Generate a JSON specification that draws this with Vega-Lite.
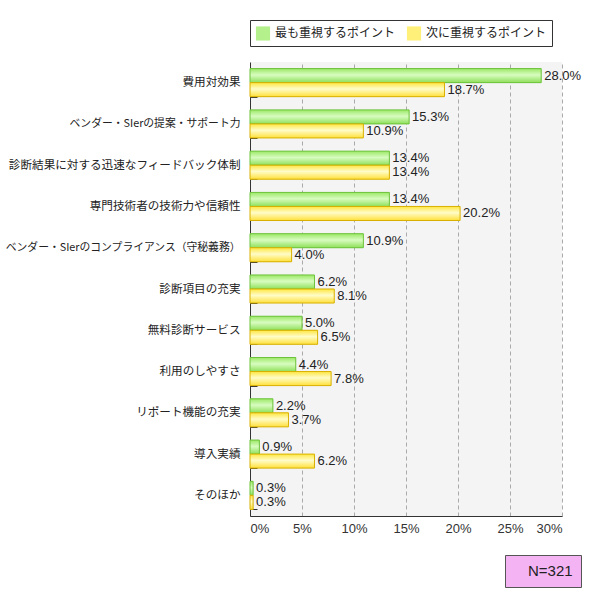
{
  "$schema": "https://vega.github.io/schema/vega-lite/v6.json",
  "width": 312,
  "height": 454,
  "padding": {"top": 19, "left": 4, "right": 29, "bottom": 5},
  "config": {
    "font": "Noto Sans CJK JP",
    "view": {"stroke": null, "fill": "#f4f4f4"}
  },
  "data": {
    "values": [
      {"item": "費用対効果", "series": "最も重視するポイント", "value": 0.280},
      {"item": "費用対効果", "series": "次に重視するポイント", "value": 0.187},
      {"item": "ベンダー・SIerの提案・サポート力", "series": "最も重視するポイント", "value": 0.153},
      {"item": "ベンダー・SIerの提案・サポート力", "series": "次に重視するポイント", "value": 0.109},
      {"item": "診断結果に対する迅速なフィードバック体制", "series": "最も重視するポイント", "value": 0.134},
      {"item": "診断結果に対する迅速なフィードバック体制", "series": "次に重視するポイント", "value": 0.134},
      {"item": "専門技術者の技術力や信頼性", "series": "最も重視するポイント", "value": 0.134},
      {"item": "専門技術者の技術力や信頼性", "series": "次に重視するポイント", "value": 0.202},
      {"item": "ベンダー・SIerのコンプライアンス（守秘義務）", "series": "最も重視するポイント", "value": 0.109},
      {"item": "ベンダー・SIerのコンプライアンス（守秘義務）", "series": "次に重視するポイント", "value": 0.040},
      {"item": "診断項目の充実", "series": "最も重視するポイント", "value": 0.062},
      {"item": "診断項目の充実", "series": "次に重視するポイント", "value": 0.081},
      {"item": "無料診断サービス", "series": "最も重視するポイント", "value": 0.050},
      {"item": "無料診断サービス", "series": "次に重視するポイント", "value": 0.065},
      {"item": "利用のしやすさ", "series": "最も重視するポイント", "value": 0.044},
      {"item": "利用のしやすさ", "series": "次に重視するポイント", "value": 0.078},
      {"item": "リポート機能の充実", "series": "最も重視するポイント", "value": 0.022},
      {"item": "リポート機能の充実", "series": "次に重視するポイント", "value": 0.037},
      {"item": "導入実績", "series": "最も重視するポイント", "value": 0.009},
      {"item": "導入実績", "series": "次に重視するポイント", "value": 0.062},
      {"item": "そのほか", "series": "最も重視するポイント", "value": 0.003},
      {"item": "そのほか", "series": "次に重視するポイント", "value": 0.003}
    ]
  },
  "encoding": {
    "y": {
      "field": "item", "type": "nominal", "sort": null,
      "scale": {"paddingInner": 0.32, "paddingOuter": 0.16},
      "axis": {
        "title": null,
        "labelFontSize": {"condition": {"test": "indexof(datum.label, '・') >= 0", "value": 10.8}, "value": 11.6},
        "labelColor": "#222",
        "tickBand": "extent", "tickSize": -7, "tickColor": "#333",
        "domainColor": "#333", "labelPadding": 17, "labelLimit": 300
      }
    },
    "yOffset": {"field": "series", "type": "nominal", "sort": ["最も重視するポイント", "次に重視するポイント"]},
    "x": {
      "field": "value", "type": "quantitative",
      "scale": {"domain": [0, 0.3]},
      "axis": {
        "title": null, "format": ".0%", "values": [0, 0.05, 0.1, 0.15, 0.2, 0.25, 0.3],
        "grid": true, "gridDash": [4, 3], "gridColor": "#aaaaaa",
        "ticks": false, "labelFont": "Liberation Sans", "labelFontSize": 13, "labelColor": "#333",
        "domainColor": "#333", "labelPadding": 6
      }
    }
  },
  "layer": [
    {
      "mark": {"type": "bar"},
      "encoding": {
        "color": {
          "field": "series", "type": "nominal",
          "sort": ["最も重視するポイント", "次に重視するポイント"],
          "scale": {"domain": ["最も重視するポイント", "次に重視するポイント"], "range": ["#b4f08c", "#fff07a"]},
          "legend": {
            "title": null, "orient": "top", "direction": "horizontal",
            "strokeColor": "#333", "padding": 5, "labelFontSize": 12, "labelColor": "#222",
            "symbolType": "square", "symbolSize": 200, "symbolStrokeWidth": 1,
            "columnPadding": 10, "labelOffset": 4, "offset": 16
          }
        }
      }
    },
    {
      "transform": [{"filter": "datum.series === '最も重視するポイント'"}],
      "mark": {
        "type": "bar", "stroke": "#6cc23a", "strokeWidth": 1,
        "color": {"gradient": "linear", "x1": 0, "y1": 0, "x2": 0, "y2": 1,
          "stops": [{"offset": 0, "color": "#9be866"}, {"offset": 0.45, "color": "#d8fcc0"}, {"offset": 1, "color": "#8ee05a"}]}
      }
    },
    {
      "transform": [{"filter": "datum.series === '次に重視するポイント'"}],
      "mark": {
        "type": "bar", "stroke": "#d8b000", "strokeWidth": 1,
        "color": {"gradient": "linear", "x1": 0, "y1": 0, "x2": 0, "y2": 1,
          "stops": [{"offset": 0, "color": "#ffe640"}, {"offset": 0.45, "color": "#fffcc8"}, {"offset": 1, "color": "#ffe03a"}]}
      }
    },
    {
      "mark": {"type": "text", "align": "left", "dx": 3, "font": "Liberation Sans", "fontSize": 13, "color": "#222"},
      "encoding": {"text": {"field": "value", "type": "quantitative", "format": ".1%"}}
    },
    {
      "mark": {"type": "point", "opacity": 0},
      "encoding": {
        "shape": {
          "datum": "N=321", "type": "nominal",
          "legend": {
            "title": null, "orient": "none", "legendX": 255, "legendY": 493,
            "fillColor": "#f4b4f4", "strokeColor": "#555", "padding": 8,
            "symbolSize": 100, "symbolOpacity": 0, "symbolStrokeWidth": 0, "labelOffset": 0,
            "labelFont": "Liberation Sans", "labelFontSize": 15, "labelColor": "#222"
          }
        }
      }
    }
  ]
}
